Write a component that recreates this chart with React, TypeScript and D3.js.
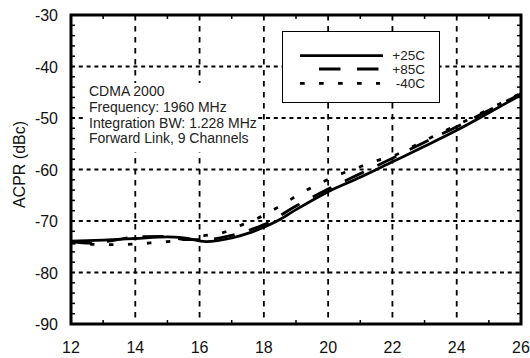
import React from "react";
import * as d3 from "d3";

const xTicks = [12, 14, 16, 18, 20, 22, 24, 26];
const yTicks = [-30, -40, -50, -60, -70, -80, -90];
const xMinor = [13, 15, 17, 19, 21, 23, 25];
const yMinor = [-32, -34, -36, -38, -42, -44, -46, -48, -52, -54, -56, -58, -62, -64, -66, -68, -72, -74, -76, -78, -82, -84, -86, -88];

const x25 = [12, 13, 14, 15, 15.5, 16.2, 17, 17.5, 18, 18.5, 19, 20, 21, 22, 23, 24, 25, 26];
const y25 = [-73.9, -73.7, -73.4, -73.1, -73.3, -74.0, -73.3, -72.4, -71.2, -69.7, -67.8, -64.3, -61.5, -58.5, -55.5, -52.4, -49.0, -45.5];

const x85 = [12, 12.6, 13.3, 14, 15, 15.5, 16.2, 17, 17.5, 18, 19, 20, 21, 22, 23, 24, 25, 26];
const y85 = [-74.0, -74.3, -73.8, -73.1, -73.0, -73.6, -73.6, -72.8, -71.9, -70.7, -67.1, -63.8, -60.8, -57.8, -54.7, -51.7, -48.5, -45.3];

const xm40 = [12, 12.6, 13.2, 13.9, 14.4, 15, 15.5, 16.1, 16.7, 17.3, 17.9, 18.5, 19.05, 19.7, 20.3, 20.9, 21.4, 22, 23, 24, 25, 26];
const ym40 = [-74.3, -74.5, -74.6, -74.5, -74.3, -74.0, -73.6, -72.9, -72.3, -70.8, -69.2, -67.1, -65.0, -62.8, -61.1, -59.7, -58.5, -57.4, -54.4, -51.4, -48.3, -45.2];

const seriesNames = ["+25C", "+85C", "-40C"];
const annotation = ["CDMA 2000", "Frequency: 1960 MHz", "Integration BW: 1.228 MHz", "Forward Link, 9 Channels"];
const yTitle = "ACPR (dBc)";

const W = 530, H = 358;
const L = 71, R = 521, T = 15, B = 324;
const FONT = "'Liberation Sans', Arial, Helvetica, sans-serif";

export default function App() {
  const xs = d3.scaleLinear().domain([12, 26]).range([L, R]);
  const ys = d3.scaleLinear().domain([-90, -30]).range([B, T]);
  const line = d3.line<[number, number]>().x(d => xs(d[0])).y(d => ys(d[1])).curve(d3.curveMonotoneX);
  const zip = (a: number[], b: number[]) => a.map((v, i) => [v, b[i]] as [number, number]);
  const series = [
    { name: seriesNames[0], d: zip(x25, y25), dash: "none" },
    { name: seriesNames[1], d: zip(x85, y85), dash: "21,15" },
    { name: seriesNames[2], d: zip(xm40, ym40), dash: "4.5,14.5" },
  ];
  return (
    <div style={{ position: "fixed", left: 0, top: 0 }}>
      <svg width={W} height={H} style={{ display: "block", background: "#fff" }} fontFamily={FONT}>
        {/* grid */}
        {xTicks.slice(1, -1).map(t => (
          <line key={"gx" + t} x1={xs(t)} x2={xs(t)} y1={T} y2={B} stroke="#000" strokeWidth={1.8} strokeDasharray="5.5,5.5" />
        ))}
        {yTicks.slice(1, -1).map(t => (
          <line key={"gy" + t} x1={L} x2={R} y1={ys(t)} y2={ys(t)} stroke="#000" strokeWidth={1.8} strokeDasharray="4,3.8" />
        ))}
        {/* minor ticks */}
        {xMinor.map(t => (
          <g key={"mx" + t}>
            <line x1={xs(t)} x2={xs(t)} y1={B} y2={B - 4} stroke="#000" strokeWidth={1.5} />
            <line x1={xs(t)} x2={xs(t)} y1={T} y2={T + 4} stroke="#000" strokeWidth={1.5} />
          </g>
        ))}
        {yMinor.map(t => (
          <g key={"my" + t}>
            <line x1={L} x2={L + 4} y1={ys(t)} y2={ys(t)} stroke="#000" strokeWidth={1.5} />
            <line x1={R} x2={R - 4} y1={ys(t)} y2={ys(t)} stroke="#000" strokeWidth={1.5} />
          </g>
        ))}
        {/* annotation background */}
        <rect x={83} y={83} width={175} height={69} fill="#fff" />
        {/* series */}
        {series.map(s => (
          <path key={s.name} d={line(s.d) || ""} fill="none" stroke="#000" strokeWidth={2.8} strokeDasharray={s.dash} strokeLinecap="butt" />
        ))}
        {/* frame */}
        <rect x={L} y={T} width={R - L} height={B - T} fill="none" stroke="#000" strokeWidth={3} />
        {/* tick labels */}
        {xTicks.map(t => (
          <text key={"xl" + t} x={xs(t)} y={353} textAnchor="middle" fontSize={16} fill="#111">{t}</text>
        ))}
        {yTicks.map(t => (
          <text key={"yl" + t} x={58} y={ys(t) + 6} textAnchor="end" fontSize={16} fill="#111">{t}</text>
        ))}
        <text transform={`translate(25,${(T + B) / 2 - 5}) rotate(-90)`} textAnchor="middle" fontSize={16} fill="#111">{yTitle}</text>
        {/* annotation */}
        {annotation.map((s, i) => (
          <text key={s} x={89} y={96 + i * 15.8} fontSize={14} fill="#222">{s}</text>
        ))}
        {/* legend */}
        <rect x={282.5} y={31.5} width={157} height={71} fill="#fff" stroke="#000" strokeWidth={1} />
        <line x1={300} x2={383} y1={55.7} y2={55.7} stroke="#000" strokeWidth={2.8} />
        <line x1={319} x2={380} y1={69} y2={69} stroke="#000" strokeWidth={2.8} strokeDasharray="21.5,16.5" />
        <line x1={300} x2={380} y1={83.3} y2={83.3} stroke="#000" strokeWidth={2.8} strokeDasharray="4.7,14.3" />
        {seriesNames.map((n, i) => (
          <text key={n} x={425} y={59.5 + i * 14} textAnchor="end" fontSize={13.5} fill="#222">{n}</text>
        ))}
      </svg>
    </div>
  );
}
